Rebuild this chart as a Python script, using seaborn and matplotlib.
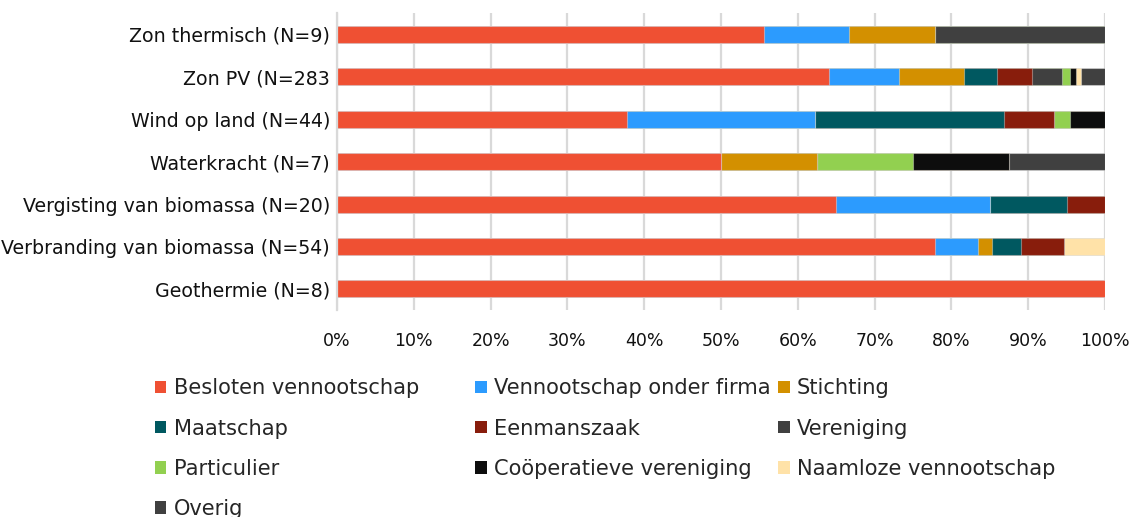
import matplotlib
matplotlib.use("Agg")
import matplotlib.pyplot as plt
from matplotlib.patches import Patch
import numpy as np
import pandas as pd
import seaborn as sns

# Energy technologies (top to bottom)
categories = [
    "Zon thermisch (N=9)",
    "Zon PV (N=283",
    "Wind op land (N=44)",
    "Waterkracht (N=7)",
    "Vergisting van biomassa (N=20)",
    "Verbranding van biomassa (N=54)",
    "Geothermie (N=8)",
]

# Share (%) of each legal form per technology
besloten_vennootschap = [55.6, 64.0, 37.7, 50.0, 65.0, 77.8, 100.0]
vennootschap_onder_firma = [11.1, 9.2, 24.6, 0.0, 20.0, 5.6, 0.0]
stichting = [11.1, 8.5, 0.0, 12.5, 0.0, 1.9, 0.0]
maatschap = [0.0, 4.2, 24.6, 0.0, 10.0, 3.7, 0.0]
eenmanszaak = [0.0, 4.6, 6.4, 0.0, 5.0, 5.6, 0.0]
vereniging = [22.2, 3.9, 0.0, 0.0, 0.0, 0.0, 0.0]
particulier = [0.0, 1.1, 2.2, 12.5, 0.0, 0.0, 0.0]
cooperatieve_vereniging = [0.0, 0.7, 4.5, 12.5, 0.0, 0.0, 0.0]
naamloze_vennootschap = [0.0, 0.7, 0.0, 0.0, 0.0, 5.4, 0.0]
overig = [0.0, 3.1, 0.0, 12.5, 0.0, 0.0, 0.0]

series_names = [
    "Besloten vennootschap",
    "Vennootschap onder firma",
    "Stichting",
    "Maatschap",
    "Eenmanszaak",
    "Vereniging",
    "Particulier",
    "Coöperatieve vereniging",
    "Naamloze vennootschap",
    "Overig",
]
series_values = [
    besloten_vennootschap, vennootschap_onder_firma, stichting, maatschap,
    eenmanszaak, vereniging, particulier, cooperatieve_vereniging,
    naamloze_vennootschap, overig,
]
colors = [
    "#EF5033", "#2C9BFE", "#D39000", "#005860", "#881D0C",
    "#404040", "#92D050", "#0D0D0D", "#FFE2A8", "#404040",
]

sns.set_theme(style="white")
plt.rcParams["font.family"] = ["DejaVu Sans"]

fig = plt.figure(figsize=(11.31, 5.17), dpi=100)
ax = fig.add_axes([0.298, 0.400, 0.679, 0.575])

# Stack by drawing cumulative totals, widest first
cum = np.cumsum(np.array(series_values), axis=0)
for i in range(len(series_names) - 1, -1, -1):
    df = pd.DataFrame({"cat": categories, "val": cum[i]})
    sns.barplot(data=df, y="cat", x="val", order=categories, color=colors[i],
                orient="h", width=0.4, ax=ax, saturation=1,
                edgecolor=(1, 1, 1, 0.35), linewidth=0.8)

ax.set_xlim(0, 100)
ax.set_ylim(6.5, -0.5)
ax.set_xticks(np.arange(0, 101, 10))
ax.set_xticklabels([f"{t}%" for t in range(0, 101, 10)])
ax.set_xlabel("")
ax.set_ylabel("")
ax.grid(axis="x", color="#D9D9D9", linewidth=1.6)
ax.set_axisbelow(True)
for s in ["top", "right", "bottom"]:
    ax.spines[s].set_visible(False)
ax.spines["left"].set_color("#D9D9D9")
ax.spines["left"].set_linewidth(1.6)
ax.tick_params(axis="both", length=0, colors="#111111")
ax.tick_params(axis="x", pad=16, labelsize=12.5)
ax.tick_params(axis="y", pad=5, labelsize=13.7)

# Legend: three fixed-width columns, filled row by row
handles = [Patch(facecolor=c, edgecolor="none") for c in colors]
columns = [[0, 3, 6, 9], [1, 4, 7], [2, 5, 8]]
col_x = [0.137, 0.420, 0.688]
for xs, idx in zip(col_x, columns):
    fig.legend([handles[k] for k in idx], [series_names[k] for k in idx],
               ncol=1, loc="upper left", bbox_to_anchor=(xs, 0.268),
               frameon=False, fontsize=15.1, handlelength=0.55,
               handleheight=0.55, handletextpad=0.35, labelspacing=0.96,
               borderaxespad=0, borderpad=0)

fig.savefig("out.png", dpi=100)
